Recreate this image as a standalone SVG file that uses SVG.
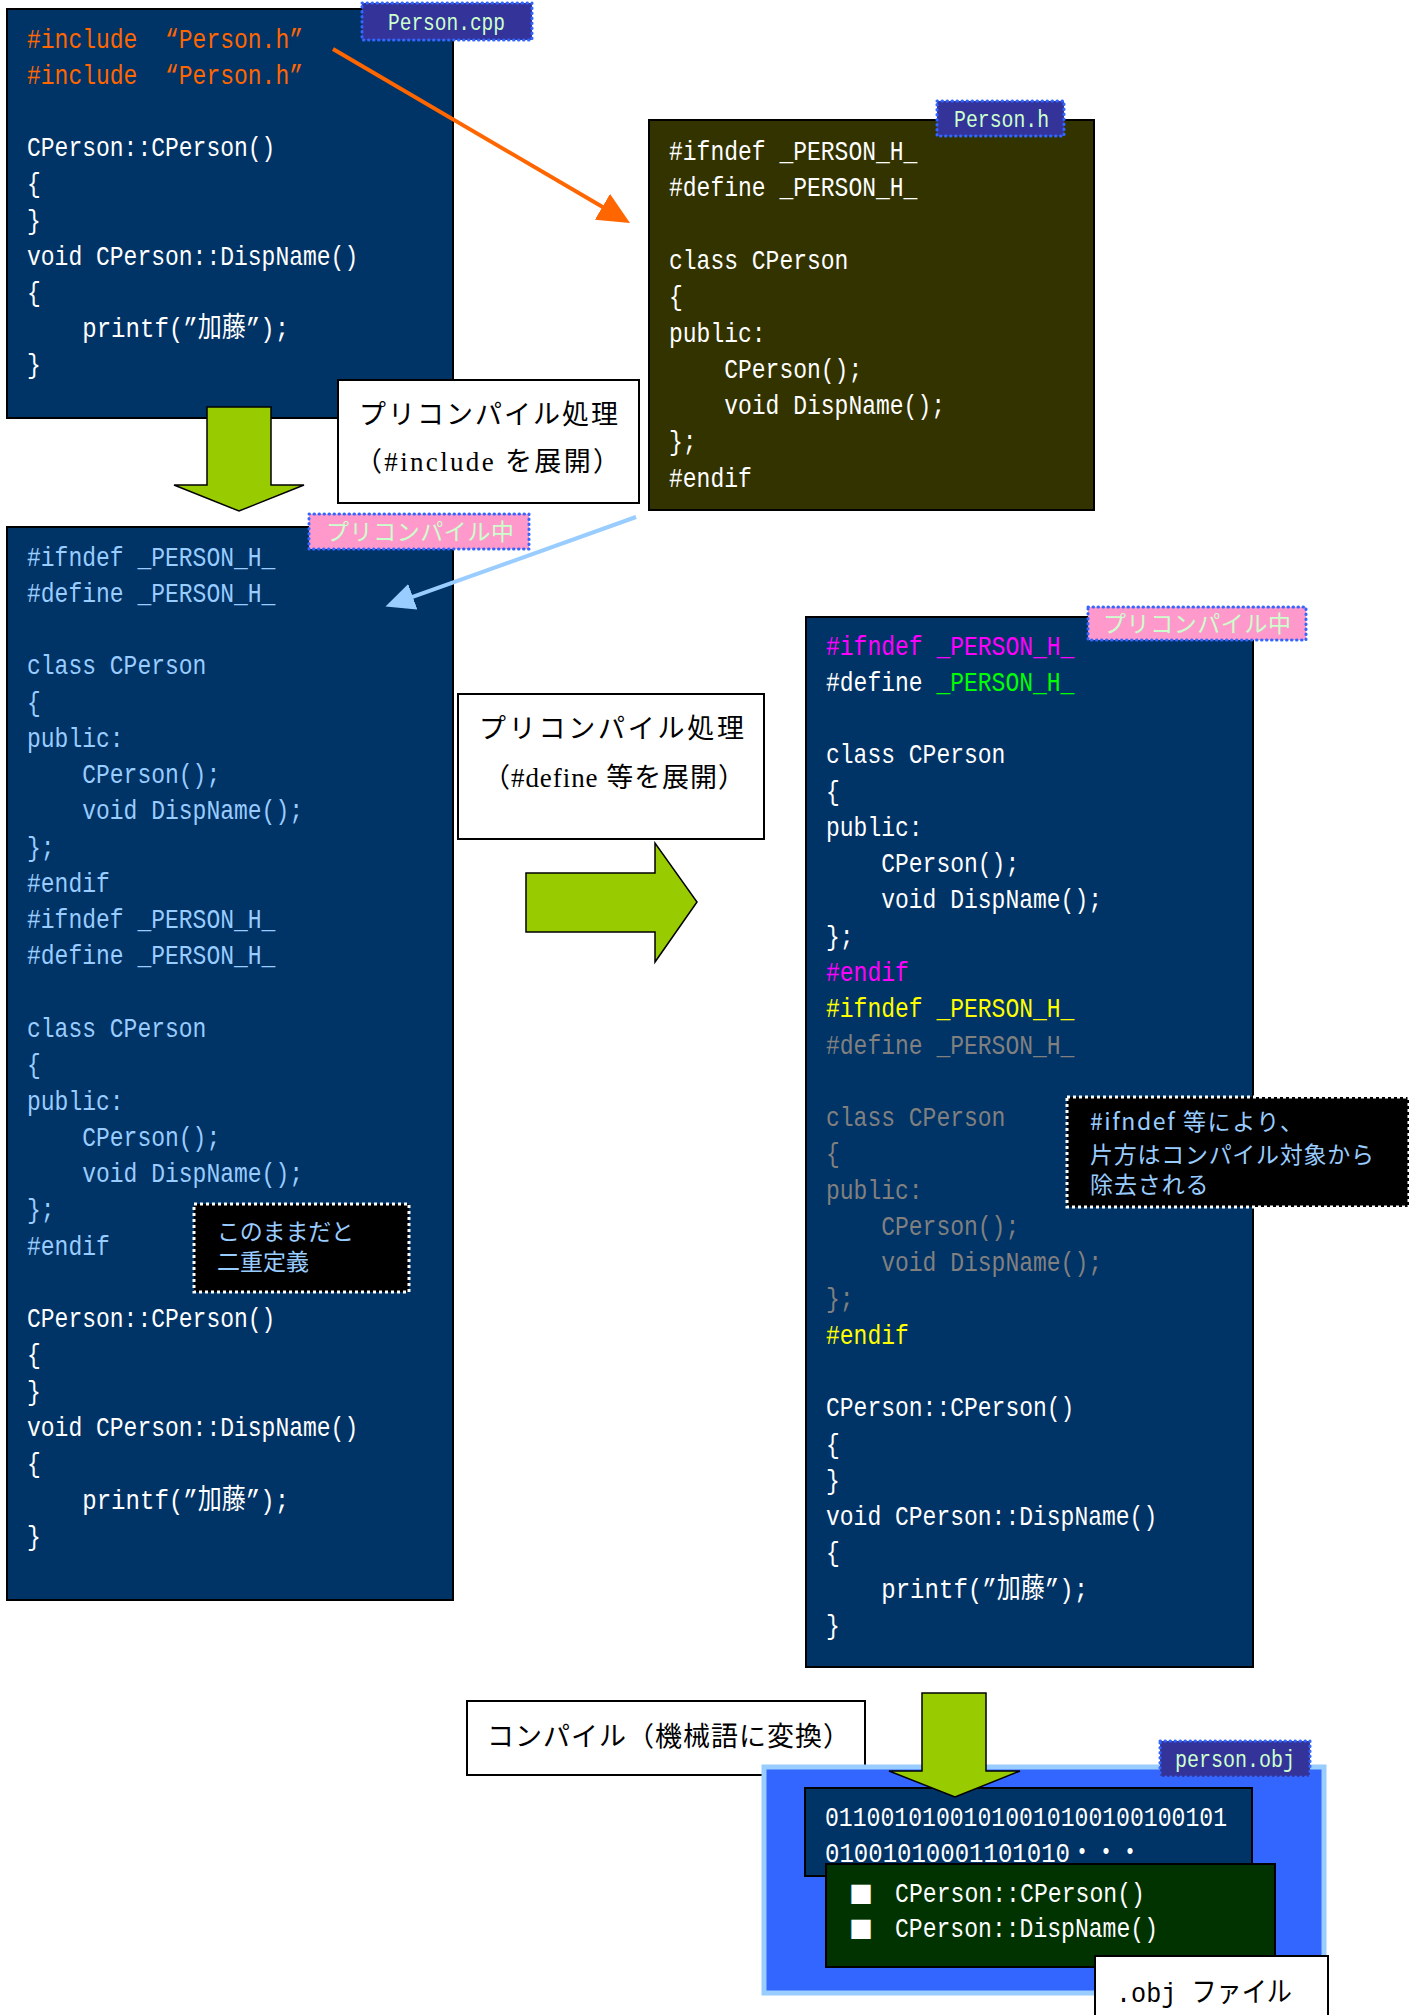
<svg xmlns="http://www.w3.org/2000/svg" width="1424" height="2015" viewBox="0 0 1424 2015">
<style>
.code{font-family:"Liberation Mono","Noto Sans CJK JP",monospace;font-size:28px}
.lbl{font-family:"Liberation Mono","Noto Sans CJK JP",monospace;font-size:24px;fill:#CCFFCC}
.jlbl{font-family:"Noto Sans CJK JP",sans-serif;font-size:23px;fill:#CCFFCC}
.min{font-family:"Liberation Serif","Noto Sans CJK JP",serif;font-size:27px;fill:#000}
.call{font-family:"Noto Sans CJK JP",sans-serif;font-size:23px;fill:#99CCFF}
.box{fill:#003366;stroke:#000;stroke-width:2}
.tb{fill:#fff;stroke:#000;stroke-width:2}
.tagB{fill:#333399;stroke:#3366FF;stroke-width:3;stroke-dasharray:0.5 4.5;stroke-linecap:round}
.tagP{fill:#FF99CC;stroke:#3366FF;stroke-width:3;stroke-dasharray:0.5 4.5;stroke-linecap:round}
.co{fill:#000;stroke:#fff;stroke-width:3;stroke-dasharray:3 3}
.garrow{fill:#99CC00;stroke:#000;stroke-width:1.5;stroke-linejoin:miter}
.w{fill:#fff}.lb{fill:#99CCFF}.or{fill:#FF6600}.mg{fill:#FF00FF}.gr{fill:#00FF00}.yl{fill:#FFFF00}.gy{fill:#808080}
</style>
<defs>
<marker id="ahO" markerUnits="userSpaceOnUse" viewBox="0 0 32 30" refX="27" refY="15" markerWidth="32" markerHeight="30" orient="auto"><path d="M0,0 L32,15 L0,30 z" fill="#FF6600"/></marker>
<marker id="ahB" markerUnits="userSpaceOnUse" viewBox="0 0 29 27" refX="24" refY="13.5" markerWidth="29" markerHeight="27" orient="auto"><path d="M0,0 L29,13.5 L0,27 z" fill="#99CCFF"/></marker>
</defs>
<rect width="1424" height="2015" fill="#fff"/>

<g id="person-cpp">
<rect class="box" x="7" y="9" width="446" height="409"/>
<g class="code">
<text class="or" x="27" y="48" textLength="110.4" lengthAdjust="spacingAndGlyphs">#include</text>
<text class="or" x="165" y="48" textLength="138" lengthAdjust="spacingAndGlyphs">“Person.h”</text>
<text class="or" x="27" y="84.1" textLength="110.4" lengthAdjust="spacingAndGlyphs">#include</text>
<text class="or" x="165" y="84.1" textLength="138" lengthAdjust="spacingAndGlyphs">“Person.h”</text>
<text class="w" x="27" y="156.3" textLength="248.4" lengthAdjust="spacingAndGlyphs">CPerson::CPerson()</text>
<text class="w" x="27" y="192.4" textLength="13.8" lengthAdjust="spacingAndGlyphs">{</text>
<text class="w" x="27" y="228.5" textLength="13.8" lengthAdjust="spacingAndGlyphs">}</text>
<text class="w" x="27" y="264.6" textLength="331.2" lengthAdjust="spacingAndGlyphs">void CPerson::DispName()</text>
<text class="w" x="27" y="300.7" textLength="13.8" lengthAdjust="spacingAndGlyphs">{</text>
<text class="w" x="82.2" y="336.8" textLength="207" lengthAdjust="spacingAndGlyphs">printf(”加藤”);</text>
<text class="w" x="27" y="372.9" textLength="13.8" lengthAdjust="spacingAndGlyphs">}</text>
</g>
<rect class="tagB" x="362" y="3" width="170" height="37"/>
<text class="lbl" x="388" y="30" textLength="117" lengthAdjust="spacingAndGlyphs">Person.cpp</text>
</g>

<g id="person-h">
<rect x="649" y="120" width="445" height="390" fill="#333300" stroke="#000" stroke-width="2"/>
<g class="code w">
<text x="669" y="160" textLength="248.4" lengthAdjust="spacingAndGlyphs">#ifndef _PERSON_H_</text>
<text x="669" y="196.3" textLength="248.4" lengthAdjust="spacingAndGlyphs">#define _PERSON_H_</text>
<text x="669" y="268.9" textLength="179.4" lengthAdjust="spacingAndGlyphs">class CPerson</text>
<text x="669" y="305.2" textLength="13.8" lengthAdjust="spacingAndGlyphs">{</text>
<text x="669" y="341.5" textLength="96.6" lengthAdjust="spacingAndGlyphs">public:</text>
<text x="724.2" y="377.8" textLength="138" lengthAdjust="spacingAndGlyphs">CPerson();</text>
<text x="724.2" y="414.1" textLength="220.8" lengthAdjust="spacingAndGlyphs">void DispName();</text>
<text x="669" y="450.4" textLength="27.6" lengthAdjust="spacingAndGlyphs">};</text>
<text x="669" y="486.7" textLength="82.8" lengthAdjust="spacingAndGlyphs">#endif</text>
</g>
<rect class="tagB" x="937" y="101" width="127" height="35"/>
<text class="lbl" x="954" y="127" textLength="95" lengthAdjust="spacingAndGlyphs">Person.h</text>
</g>

<g id="step-include">
<rect class="tb" x="338" y="380" width="301" height="123"/>
<text class="min" x="359" y="424" textLength="259">プリコンパイル処理</text>
<text class="min" x="355" y="471" textLength="265">（#include を展開）</text>
</g>

<g id="precompiling-1">
<rect class="box" x="7" y="527" width="446" height="1073"/>
<g class="code">
<text class="lb" x="27" y="565.5" textLength="248.4" lengthAdjust="spacingAndGlyphs">#ifndef _PERSON_H_</text>
<text class="lb" x="27" y="601.77" textLength="248.4" lengthAdjust="spacingAndGlyphs">#define _PERSON_H_</text>
<text class="lb" x="27" y="674.31" textLength="179.4" lengthAdjust="spacingAndGlyphs">class CPerson</text>
<text class="lb" x="27" y="710.58" textLength="13.8" lengthAdjust="spacingAndGlyphs">{</text>
<text class="lb" x="27" y="746.85" textLength="96.6" lengthAdjust="spacingAndGlyphs">public:</text>
<text class="lb" x="82.2" y="783.12" textLength="138" lengthAdjust="spacingAndGlyphs">CPerson();</text>
<text class="lb" x="82.2" y="819.39" textLength="220.8" lengthAdjust="spacingAndGlyphs">void DispName();</text>
<text class="lb" x="27" y="855.66" textLength="27.6" lengthAdjust="spacingAndGlyphs">};</text>
<text class="lb" x="27" y="891.93" textLength="82.8" lengthAdjust="spacingAndGlyphs">#endif</text>
<text class="lb" x="27" y="928.2" textLength="248.4" lengthAdjust="spacingAndGlyphs">#ifndef _PERSON_H_</text>
<text class="lb" x="27" y="964.47" textLength="248.4" lengthAdjust="spacingAndGlyphs">#define _PERSON_H_</text>
<text class="lb" x="27" y="1037.01" textLength="179.4" lengthAdjust="spacingAndGlyphs">class CPerson</text>
<text class="lb" x="27" y="1073.28" textLength="13.8" lengthAdjust="spacingAndGlyphs">{</text>
<text class="lb" x="27" y="1109.55" textLength="96.6" lengthAdjust="spacingAndGlyphs">public:</text>
<text class="lb" x="82.2" y="1145.82" textLength="138" lengthAdjust="spacingAndGlyphs">CPerson();</text>
<text class="lb" x="82.2" y="1182.09" textLength="220.8" lengthAdjust="spacingAndGlyphs">void DispName();</text>
<text class="lb" x="27" y="1218.36" textLength="27.6" lengthAdjust="spacingAndGlyphs">};</text>
<text class="lb" x="27" y="1254.63" textLength="82.8" lengthAdjust="spacingAndGlyphs">#endif</text>
<text class="w" x="27" y="1327.17" textLength="248.4" lengthAdjust="spacingAndGlyphs">CPerson::CPerson()</text>
<text class="w" x="27" y="1363.44" textLength="13.8" lengthAdjust="spacingAndGlyphs">{</text>
<text class="w" x="27" y="1399.71" textLength="13.8" lengthAdjust="spacingAndGlyphs">}</text>
<text class="w" x="27" y="1435.98" textLength="331.2" lengthAdjust="spacingAndGlyphs">void CPerson::DispName()</text>
<text class="w" x="27" y="1472.25" textLength="13.8" lengthAdjust="spacingAndGlyphs">{</text>
<text class="w" x="82.2" y="1508.52" textLength="207" lengthAdjust="spacingAndGlyphs">printf(”加藤”);</text>
<text class="w" x="27" y="1544.79" textLength="13.8" lengthAdjust="spacingAndGlyphs">}</text>
</g>
<rect class="tagP" x="309" y="514" width="220" height="35"/>
<text class="jlbl" x="326" y="540" textLength="188">プリコンパイル中</text>
</g>

<g id="note-double">
<rect class="co" x="194" y="1204" width="215" height="88"/>
<text class="call" x="217" y="1240" textLength="137">このままだと</text>
<text class="call" x="217" y="1270" textLength="92">二重定義</text>
</g>

<g id="step-define">
<rect class="tb" x="458" y="694" width="306" height="145"/>
<text class="min" x="479" y="738" textLength="265">プリコンパイル処理</text>
<text class="min" x="483" y="787" textLength="262">（#define 等を展開）</text>
</g>

<g id="precompiling-2">
<rect class="box" x="806" y="617" width="447" height="1050"/>
<g class="code">
<text class="mg" x="826" y="654.6" textLength="248.4" lengthAdjust="spacingAndGlyphs">#ifndef _PERSON_H_</text>
<text class="w" x="826" y="690.87" textLength="96.6" lengthAdjust="spacingAndGlyphs">#define</text>
<text class="gr" x="936.4" y="690.87" textLength="138" lengthAdjust="spacingAndGlyphs">_PERSON_H_</text>
<text class="w" x="826" y="763.41" textLength="179.4" lengthAdjust="spacingAndGlyphs">class CPerson</text>
<text class="w" x="826" y="799.68" textLength="13.8" lengthAdjust="spacingAndGlyphs">{</text>
<text class="w" x="826" y="835.95" textLength="96.6" lengthAdjust="spacingAndGlyphs">public:</text>
<text class="w" x="881.2" y="872.22" textLength="138" lengthAdjust="spacingAndGlyphs">CPerson();</text>
<text class="w" x="881.2" y="908.49" textLength="220.8" lengthAdjust="spacingAndGlyphs">void DispName();</text>
<text class="w" x="826" y="944.76" textLength="27.6" lengthAdjust="spacingAndGlyphs">};</text>
<text class="mg" x="826" y="981.03" textLength="82.8" lengthAdjust="spacingAndGlyphs">#endif</text>
<text class="yl" x="826" y="1017.3" textLength="248.4" lengthAdjust="spacingAndGlyphs">#ifndef _PERSON_H_</text>
<text class="gy" x="826" y="1053.57" textLength="248.4" lengthAdjust="spacingAndGlyphs">#define _PERSON_H_</text>
<text class="gy" x="826" y="1126.11" textLength="179.4" lengthAdjust="spacingAndGlyphs">class CPerson</text>
<text class="gy" x="826" y="1162.38" textLength="13.8" lengthAdjust="spacingAndGlyphs">{</text>
<text class="gy" x="826" y="1198.65" textLength="96.6" lengthAdjust="spacingAndGlyphs">public:</text>
<text class="gy" x="881.2" y="1234.92" textLength="138" lengthAdjust="spacingAndGlyphs">CPerson();</text>
<text class="gy" x="881.2" y="1271.19" textLength="220.8" lengthAdjust="spacingAndGlyphs">void DispName();</text>
<text class="gy" x="826" y="1307.46" textLength="27.6" lengthAdjust="spacingAndGlyphs">};</text>
<text class="yl" x="826" y="1343.73" textLength="82.8" lengthAdjust="spacingAndGlyphs">#endif</text>
<text class="w" x="826" y="1416.27" textLength="248.4" lengthAdjust="spacingAndGlyphs">CPerson::CPerson()</text>
<text class="w" x="826" y="1452.54" textLength="13.8" lengthAdjust="spacingAndGlyphs">{</text>
<text class="w" x="826" y="1488.81" textLength="13.8" lengthAdjust="spacingAndGlyphs">}</text>
<text class="w" x="826" y="1525.08" textLength="331.2" lengthAdjust="spacingAndGlyphs">void CPerson::DispName()</text>
<text class="w" x="826" y="1561.35" textLength="13.8" lengthAdjust="spacingAndGlyphs">{</text>
<text class="w" x="881.2" y="1597.62" textLength="207" lengthAdjust="spacingAndGlyphs">printf(”加藤”);</text>
<text class="w" x="826" y="1633.89" textLength="13.8" lengthAdjust="spacingAndGlyphs">}</text>
</g>
<rect class="tagP" x="1088" y="607" width="218" height="33"/>
<text class="jlbl" x="1103" y="632" textLength="188">プリコンパイル中</text>
</g>

<g id="note-ifndef">
<rect class="co" x="1067" y="1097" width="342" height="110"/>
<text class="call" x="1090" y="1130" textLength="213">#ifndef 等により、</text>
<text class="call" x="1090" y="1163" textLength="284">片方はコンパイル対象から</text>
<text class="call" x="1090" y="1193" textLength="118.5">除去される</text>
</g>

<g id="step-compile">
<rect class="tb" x="467" y="1701" width="398" height="74"/>
<text class="min" x="487" y="1746" textLength="363">コンパイル（機械語に変換）</text>
</g>

<g id="person-obj">
<rect x="764" y="1767" width="560" height="226" fill="#3366FF" stroke="#99CCFF" stroke-width="5"/>
<rect class="box" x="805" y="1788" width="447" height="88"/>
<text class="code w" x="825" y="1826" textLength="402" lengthAdjust="spacingAndGlyphs">01100101001010010100100100101</text>
<text class="code w" x="825" y="1862" textLength="317" lengthAdjust="spacingAndGlyphs">01001010001101010・・・</text>
<rect x="826" y="1864" width="449" height="103" fill="#003300" stroke="#000" stroke-width="2"/>
<text x="849" y="1903" font-family="Noto Sans CJK JP, sans-serif" font-size="24" fill="#fff">■</text>
<text class="code w" x="895" y="1902" textLength="250" lengthAdjust="spacingAndGlyphs">CPerson::CPerson()</text>
<text x="849" y="1938" font-family="Noto Sans CJK JP, sans-serif" font-size="24" fill="#fff">■</text>
<text class="code w" x="895" y="1937" textLength="263" lengthAdjust="spacingAndGlyphs">CPerson::DispName()</text>
<rect class="tb" x="1095" y="1956" width="233" height="70"/>
<text class="code" x="1116" y="2002" fill="#000" textLength="176" lengthAdjust="spacingAndGlyphs">.obj ファイル</text>
<rect class="tagB" x="1160" y="1741" width="150" height="36"/>
<text class="lbl" x="1175" y="1767" textLength="120" lengthAdjust="spacingAndGlyphs">person.obj</text>
</g>

<g id="connectors">
<polygon class="garrow" points="207,407 271,407 271,485 304,485 239,511 174,485 207,485"/>
<polygon class="garrow" points="526,873 655,873 655,843 697,902 655,962 655,932 526,932"/>
<polygon class="garrow" points="922,1693 986,1693 986,1771 1020,1771 955,1797 889,1771 922,1771"/>
<line x1="333" y1="49" x2="625.7" y2="220.5" stroke="#FF6600" stroke-width="4" marker-end="url(#ahO)"/>
<line x1="636" y1="517" x2="390.2" y2="604.9" stroke="#99CCFF" stroke-width="4" marker-end="url(#ahB)"/>
</g>
</svg>
